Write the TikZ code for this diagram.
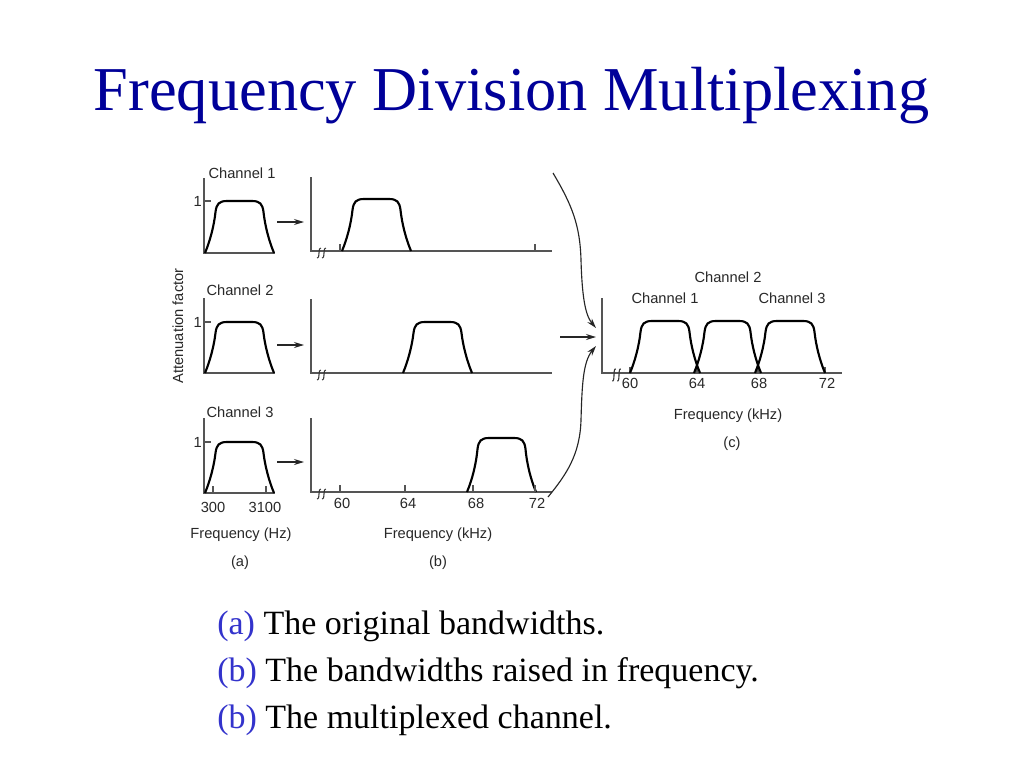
\documentclass[tikz,border=0pt]{standalone}
\usepackage{fontspec}
\setmainfont{Liberation Serif}
\newfontfamily\labfont{Liberation Sans}
\usetikzlibrary{arrows.meta}
\definecolor{titleblue}{RGB}{0,0,153}
\definecolor{itemblue}{RGB}{51,51,204}
\definecolor{labgray}{RGB}{40,40,40}
\definecolor{axgray}{RGB}{85,85,85}
\newcommand\drawpulse[4]{%
  \draw[pulseline] (#1,#3) .. controls (#1+5,#3-12) and (#1+9,#3-27) .. (#1+10.5,#4+11)
    .. controls (#1+11.5,#4+3) and (#1+14,#4) .. (#1+22,#4)
    -- (#2-22,#4)
    .. controls (#2-14,#4) and (#2-11.5,#4+3) .. (#2-10.5,#4+11)
    .. controls (#2-9,#3-27) and (#2-5,#3-12) .. (#2,#3);}
\newcommand\brkmark[3]{% x, y, half height
  \foreach \dx in {0,5} {\draw[brk] (#1+\dx-1.8,#2+#3) .. controls (#1+\dx-0.4,#2+#3+0.6) and (#1+\dx,#2+#3*0.6) .. (#1+\dx,#2)
     .. controls (#1+\dx,#2-#3*0.6) and (#1+\dx+0.4,#2-#3-0.6) .. (#1+\dx+1.8,#2-#3);}}
\begin{document}
\begin{tikzpicture}[x=0.75pt,y=-0.75pt,
  lab/.style={font=\labfont\fontsize{11}{13}\selectfont, text=labgray, inner sep=0pt},
  axis/.style={draw=axgray, line width=1pt},
  pulseline/.style={draw=black, line width=1.6pt, line join=round},
  arr/.style={draw=black!85, line width=0.85pt, -{Stealth[length=7.5pt,width=4.5pt]}},
  brk/.style={draw=black!80, line width=0.8pt},
  tick/.style={draw=axgray, line width=0.8pt},
]
\useasboundingbox (0,0) rectangle (1024,768);
\fill[white] (0,0) rectangle (1024,768);

% title
\node[anchor=base, text=titleblue, font=\fontsize{46.8}{50}\selectfont, inner sep=0pt] (title) at (511.5,110) {Frequency Division Multiplexing};

% ---------- panel (a) ----------
\foreach \B/\T/\n in {253/201/1, 373/322/2, 493/442/3} {
  \draw[axis] (204,\B-75) -- (204,\B) -- (275,\B);
  \draw[tick] (204,\T) -- (211,\T);
  \node[lab, anchor=base east] (one\n) at (202,\T+5) {1};
  \drawpulse{205}{274}{\B}{\T}
}
\node[lab, anchor=base] (cha1) at (242,178) {Channel 1};
\node[lab, anchor=base] (cha2) at (240,295) {Channel 2};
\node[lab, anchor=base] (cha3) at (240,417) {Channel 3};
\draw[tick] (213,493) -- (213,486);
\draw[tick] (266,493) -- (266,486);
\node[lab, anchor=base] (l300) at (213,512) {300};
\node[lab, anchor=base] (l3100) at (265,512) {3100};
\node[lab, anchor=base] (fhz) at (241,538) {Frequency (Hz)};
\node[lab, anchor=base] (capa) at (240,566) {(a)};
\node[lab, rotate=90] (att) at (178,326) {Attenuation factor};

% arrows a -> b
\foreach \y/\n in {222/1, 345/2, 462/3} {
  \coordinate (ae\n) at (277,\y);
  \coordinate (bs\n) at (304,\y);
  \draw[arr] (ae\n) -- (bs\n);
}

% ---------- panel (b) ----------
\foreach \B/\T/\L/\n in {251/199/342/1, 373/322/403/2, 492/438/467/3} {
  \draw[axis] (311,\B-74) -- (311,\B) -- (552,\B);
  \brkmark{319}{\B+2}{5}
  \drawpulse{\L}{\L+69}{\B}{\T}
}
\draw[tick] (340,251) -- (340,244);
\draw[tick] (535,251) -- (535,244);
\foreach \x in {340,405,473,535} {\draw[tick] (\x,492) -- (\x,485);}
\node[lab, anchor=base] (b60) at (342,508) {60};
\node[lab, anchor=base] (b64) at (408,508) {64};
\node[lab, anchor=base] (b68) at (476,508) {68};
\node[lab, anchor=base] (b72) at (537,508) {72};
\node[lab, anchor=base] (fkhzb) at (438,538) {Frequency (kHz)};
\node[lab, anchor=base] (capb) at (438,566) {(b)};

% ---------- panel (c) ----------
\draw[axis] (602,298) -- (602,373) -- (842,373);
\brkmark{614}{375}{6}
\foreach \x in {630,697,758,825} {\draw[tick] (\x,373) -- (\x,367);}
\drawpulse{630}{700}{373}{321}
\drawpulse{694}{761}{373}{321}
\drawpulse{755}{825}{373}{321}
\node[lab, anchor=base] (c60) at (630,388) {60};
\node[lab, anchor=base] (c64) at (697,388) {64};
\node[lab, anchor=base] (c68) at (759,388) {68};
\node[lab, anchor=base] (c72) at (827,388) {72};
\node[lab, anchor=base] (chc2) at (728,282) {Channel 2};
\node[lab, anchor=base] (chc1) at (665,303) {Channel 1};
\node[lab, anchor=base] (chc3) at (792,303) {Channel 3};
\node[lab, anchor=base] (fkhzc) at (728,419) {Frequency (kHz)};
\node[lab, anchor=base] (capc) at (732,447) {(c)};

% arrows b -> c
\coordinate (top1) at (553,173);
\coordinate (tin) at (596,328);
\coordinate (mid1) at (560,337);
\coordinate (min) at (596,337);
\coordinate (bot1) at (548,497);
\coordinate (bin) at (596,346);
\draw[arr] (top1) .. controls (572,205) and (580,225) .. (581,260) .. controls (582,295) and (585,315) .. (tin);
\draw[arr] (mid1) -- (min);
\draw[arr] (bot1) .. controls (566,475) and (580,455) .. (581,420) .. controls (582,385) and (583,362) .. (bin);

% ---------- caption lines ----------
\node[anchor=base west, inner sep=0pt, font=\fontsize{25.5}{28}\selectfont] (ia) at (217,634) {\textcolor{itemblue}{(a)} The original bandwidths.};
\node[anchor=base west, inner sep=0pt, font=\fontsize{25.5}{28}\selectfont] (ib) at (217,681) {\textcolor{itemblue}{(b)} The bandwidths raised in frequency.};
\node[anchor=base west, inner sep=0pt, font=\fontsize{25.5}{28}\selectfont] (ic) at (217,728) {\textcolor{itemblue}{(b)} The multiplexed channel.};
\end{tikzpicture}
\end{document}
